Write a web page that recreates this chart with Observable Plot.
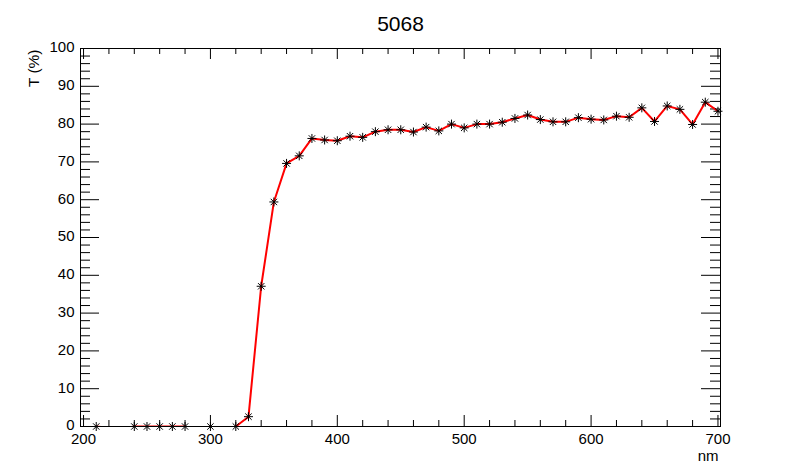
<!DOCTYPE html>
<html>
<head>
<meta charset="utf-8">
<script src="https://cdn.jsdelivr.net/npm/d3@7"></script>
<script src="https://cdn.jsdelivr.net/npm/@observablehq/plot@0.6"></script>
<style>
  html, body { margin: 0; padding: 0; background: #fff; }
</style>
</head>
<body>
<div id="chart"></div>
<script>
// ---- data ----
const title = "5068";
const xLabel = "nm";
const yLabel = "T (%)";
const wavelength = [210,220,230,240,250,260,270,280,290,300,310,320,330,340,350,360,370,380,390,400,
  410,420,430,440,450,460,470,480,490,500,510,520,530,540,550,560,570,580,590,600,
  610,620,630,640,650,660,670,680,690,700];
const transmission = [0,-0.35,-0.6,0,0,0,0,0,-1.4,0,-2,0,2.6,37.1,59.4,69.6,71.6,76.2,75.8,75.6,
  76.8,76.5,78.0,78.5,78.5,77.9,79.2,78.2,80.0,79.0,80.0,80.0,80.5,81.5,82.4,81.2,80.6,80.6,81.7,81.3,
  81.1,82.1,81.8,84.3,80.7,84.8,83.9,79.9,85.8,83.4];
const xMajorTicks = [200,300,400,500,600,700];
const yMajorTicks = [0,10,20,30,40,50,60,70,80,90,100];
const xMinorTicks = d3.range(200, 701, 20).filter(v => v % 100 !== 0);
const yMinorTicks = d3.range(0, 101, 2).filter(v => v % 10 !== 0);

const data = wavelength.map((w, i) => ({w, t: transmission[i]}));

// ROOT-like 8-arm asterisk marker
const star = {
  draw(ctx, size) {
    const r = Math.sqrt(size / Math.PI);
    const d = r * Math.SQRT1_2;
    ctx.moveTo(-r, 0); ctx.lineTo(r, 0);
    ctx.moveTo(0, -r); ctx.lineTo(0, r);
    ctx.moveTo(-d, -d); ctx.lineTo(d, d);
    ctx.moveTo(-d, d); ctx.lineTo(d, -d);
  }
};

const W = 800, H = 474;
const mL = 80, mR = 80, mT = 48, mB = 48;
const fw = W - mL - mR, fh = H - mT - mB;

const chart = Plot.plot({
  width: W, height: H,
  marginLeft: mL, marginRight: mR, marginTop: mT, marginBottom: mB,
  style: {fontFamily: "'Liberation Sans', Arial, Helvetica, sans-serif", fontSize: "15px", color: "#000", background: "#fff"},
  x: {domain: [197.6, 702], label: null},
  y: {domain: [0, 100], label: null},
  marks: [
    Plot.axisX({ticks: xMajorTicks, tickSize: 0, tickPadding: 7, tickFormat: d => String(d), fontSize: 15, label: null}),
    Plot.axisY({ticks: yMajorTicks, tickSize: 0, tickPadding: 6, tickFormat: d => String(d), fontSize: 15, label: null, dy: -1}),
    // bottom & top ticks (inward)
    Plot.tickX(xMajorTicks, {x: d => d, insetTop: fh - 11, stroke: "#000"}),
    Plot.tickX(xMinorTicks, {x: d => d, insetTop: fh - 6, stroke: "#000"}),
    Plot.tickX(xMajorTicks, {x: d => d, insetBottom: fh - 11, stroke: "#000"}),
    Plot.tickX(xMinorTicks, {x: d => d, insetBottom: fh - 6, stroke: "#000"}),
    // left & right ticks (inward)
    Plot.tickY(yMajorTicks, {y: d => d, insetRight: fw - 19, stroke: "#000"}),
    Plot.tickY(yMinorTicks, {y: d => d, insetRight: fw - 10, stroke: "#000"}),
    Plot.tickY(yMajorTicks, {y: d => d, insetLeft: fw - 19, stroke: "#000"}),
    Plot.tickY(yMinorTicks, {y: d => d, insetLeft: fw - 10, stroke: "#000"}),
    Plot.frame({stroke: "#000"}),
    Plot.line(data, {x: "w", y: "t", stroke: "#ff0000", strokeWidth: 2, clip: true}),
    Plot.dot(data.filter(d => d.t >= 0), {x: "w", y: "t", r: 4.5, symbol: star, stroke: "#000", fill: "none", strokeWidth: 1}),
    Plot.text([title], {frameAnchor: "top", dy: -32, fontSize: 21, fill: "#000"}),
    Plot.text([xLabel], {frameAnchor: "bottom-right", textAnchor: "end", dx: -2, dy: 34, fontSize: 15, fill: "#000"}),
    Plot.text([yLabel], {frameAnchor: "top-left", textAnchor: "end", rotate: -90, dx: -53, dy: 1, fontSize: 15.5, fill: "#000"})
  ]
});
document.getElementById("chart").appendChild(chart);
</script>
</body>
</html>
